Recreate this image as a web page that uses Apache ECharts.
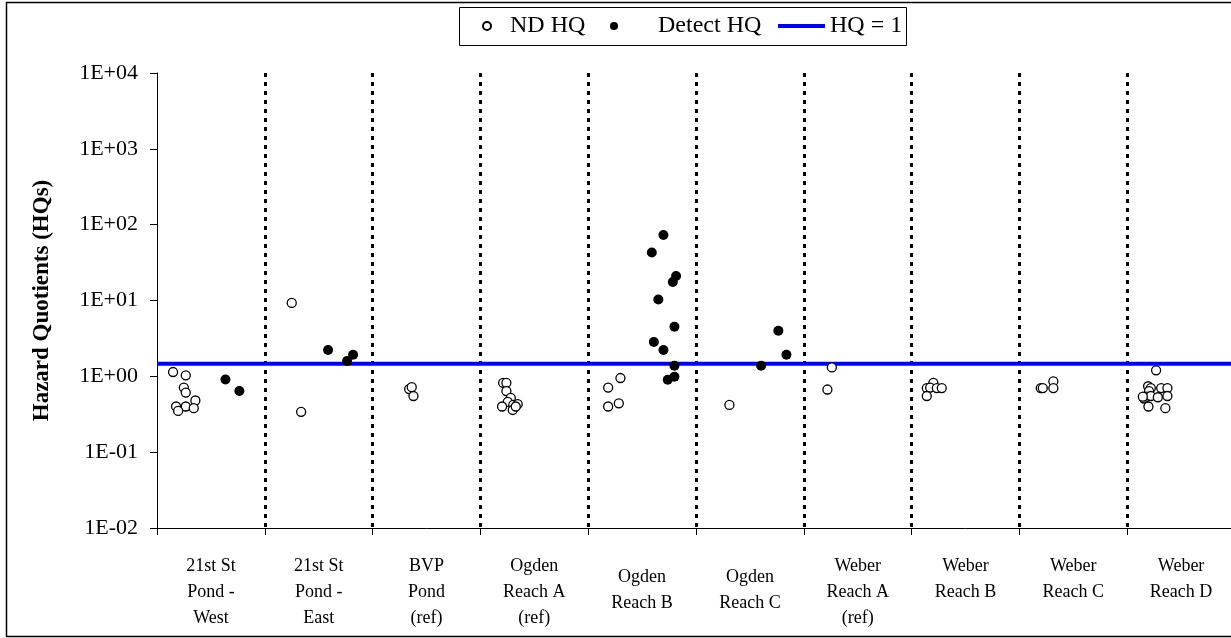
<!DOCTYPE html>
<html><head><meta charset="utf-8">
<script src="https://cdn.jsdelivr.net/npm/echarts@6/dist/echarts.min.js"></script>
<style>html,body{margin:0;padding:0;overflow:hidden;background:#fff}#c{width:1235px;height:638px}</style>
</head><body><div id="c"></div>
<script>
// Categories (x-axis groups)
const categories = [
  '21st St\nPond -\nWest', '21st St\nPond -\nEast', 'BVP\nPond\n(ref)', 'Ogden\nReach A\n(ref)',
  '{s| }\nOgden\nReach B', '{s| }\nOgden\nReach C', 'Weber\nReach A\n(ref)', 'Weber\nReach B',
  'Weber\nReach C', 'Weber\nReach D'
];
// [category index, jitter within category, HQ value]
const ndHQ = [
  [0,.149,1.14],[0,.267,1.03],[0,.249,0.71],[0,.267,0.61],[0,.356,0.48],[0,.177,0.40],[0,.267,0.40],[0,.341,0.38],[0,.196,0.35],
  [1,.250,9.3],[1,.337,0.34],
  [2,.339,0.68],[2,.363,0.72],[2,.379,0.55],
  [3,.211,0.82],[3,.241,0.82],[3,.241,0.64],[3,.282,0.52],[3,.254,0.46],[3,.201,0.40],[3,.305,0.42],[3,.346,0.43],[3,.300,0.36],[3,.328,0.40],
  [4,.299,0.95],[4,.185,0.71],[4,.284,0.44],[4,.185,0.40],
  [5,.310,0.42],
  [6,.260,1.31],[6,.219,0.67],
  [7,.202,0.82],[7,.141,0.70],[7,.172,0.71],[7,.234,0.70],[7,.280,0.70],[7,.141,0.55],
  [8,.198,0.70],[8,.217,0.70],[8,.315,0.86],[8,.315,0.70],
  [9,.268,1.2],[9,.194,0.74],[9,.219,0.70],[9,.315,0.70],[9,.373,0.70],[9,.203,0.64],[9,.156,0.51],[9,.182,0.54],[9,.219,0.55],[9,.284,0.53],[9,.373,0.55],[9,.197,0.40],[9,.354,0.38],[9,.145,0.54]
];
const detectHQ = [
  [0,.635,0.91],[0,.764,0.64],
  [1,.587,2.22],[1,.819,1.93],[1,.763,1.59],
  [4,.698,73],[4,.590,43],[4,.815,21],[4,.785,17.5],[4,.651,10.3],[4,.800,4.5],[4,.609,2.84],[4,.698,2.22],[4,.800,1.38],[4,.800,0.99],[4,.738,0.90],
  [5,.604,1.38],[5,.764,4.0],[5,.839,1.93]
];
const hqLineValue = 1.47;
const yMin = 0.01, yMax = 10000;

const FONT = '"Liberation Serif","Times New Roman",serif';
const toXY = a => a.map(d => [d[0] + d[1], d[2]]);
const fmtE = v => { const e = Math.round(Math.log10(v)); return '1E' + (e < 0 ? '-' : '+') + String(Math.abs(e)).padStart(2, '0'); };
const legendText = {fontFamily: FONT, fontSize: 24, color: '#000'};

const chart = echarts.init(document.getElementById('c'), null, {renderer: 'canvas'});
chart.setOption({
  animation: false,
  backgroundColor: '#fff',
  grid: {left: 157, right: 0, top: 73, bottom: 110, outerBoundsMode: 'none'},
  graphic: [
    {type: 'rect', shape: {x: 6.5, y: 2.5, width: 1300, height: 634}, style: {fill: 'none', stroke: '#000', lineWidth: 1.5}, silent: true, z: 0},
    {type: 'rect', shape: {x: 459.5, y: 7.5, width: 447, height: 38}, style: {fill: '#fff', stroke: '#000', lineWidth: 1}, silent: true, z: 0}
  ],
  legend: [
    {data: [{name: 'ND HQ', icon: 'circle'}], left: 482, top: 14, padding: 0, itemWidth: 36, itemHeight: 8,
     textStyle: legendText, selectedMode: false, z: 5},
    {data: [{name: 'Detect HQ', icon: 'circle'}], left: 610, top: 14, padding: 0, itemWidth: 78, itemHeight: 8,
     textStyle: legendText, selectedMode: false, z: 5},
    {data: [{name: 'HQ = 1', icon: 'rect', itemStyle: {color: '#0000FF'}}], left: 778, top: 14, padding: 0, itemWidth: 47, itemHeight: 4,
     textStyle: legendText, selectedMode: false, z: 5}
  ],
  xAxis: [
    {type: 'value', min: 0, max: 10, interval: 1,
     axisLabel: {show: false}, axisLine: {show: false}, axisTick: {show: false},
     splitLine: {show: true, showMinLine: false, showMaxLine: false, lineStyle: {color: '#000', width: 3, type: [4, 5]}}},
    {type: 'category', data: categories, position: 'bottom', boundaryGap: true,
     axisLine: {show: true, lineStyle: {color: '#000', width: 1}},
     axisTick: {show: true, alignWithLabel: false, length: 7, lineStyle: {color: '#000'}},
     axisLabel: {interval: 0, margin: 25, color: '#000', fontFamily: FONT, fontSize: 18, lineHeight: 26, align: 'center',
       rich: {s: {fontFamily: FONT, fontSize: 2, lineHeight: 11, color: '#fff'}}},
     splitLine: {show: false}}
  ],
  yAxis: {
    type: 'log', logBase: 10, min: yMin, max: yMax,
    axisLine: {show: true, lineStyle: {color: '#000', width: 1}},
    axisTick: {show: true, length: 7, lineStyle: {color: '#000'}},
    minorTick: {show: false}, splitLine: {show: false},
    axisLabel: {formatter: fmtE, color: '#000', fontFamily: FONT, fontSize: 22, margin: 19},
    name: 'Hazard Quotients (HQs)', nameLocation: 'middle', nameGap: 103,
    nameTextStyle: {fontFamily: FONT, fontSize: 23, fontWeight: 'bold', color: '#000'}
  },
  series: [
    {name: 'HQ = 1', type: 'line', xAxisIndex: 0, data: [[0, hqLineValue], [10, hqLineValue]],
     symbol: 'none', lineStyle: {color: '#0000FF', width: 4}, itemStyle: {color: '#0000FF'}, z: 1, silent: true},
    {name: 'ND HQ', type: 'scatter', xAxisIndex: 0, data: toXY(ndHQ), symbol: 'circle', symbolSize: 9,
     itemStyle: {color: '#fff', borderColor: '#000', borderWidth: 1.3, opacity: 1}, z: 3},
    {name: 'Detect HQ', type: 'scatter', xAxisIndex: 0, data: toXY(detectHQ), symbol: 'circle', symbolSize: 10,
     itemStyle: {color: '#000', borderColor: '#000', borderWidth: 0, opacity: 1}, z: 4}
  ]
});
</script></body></html>
